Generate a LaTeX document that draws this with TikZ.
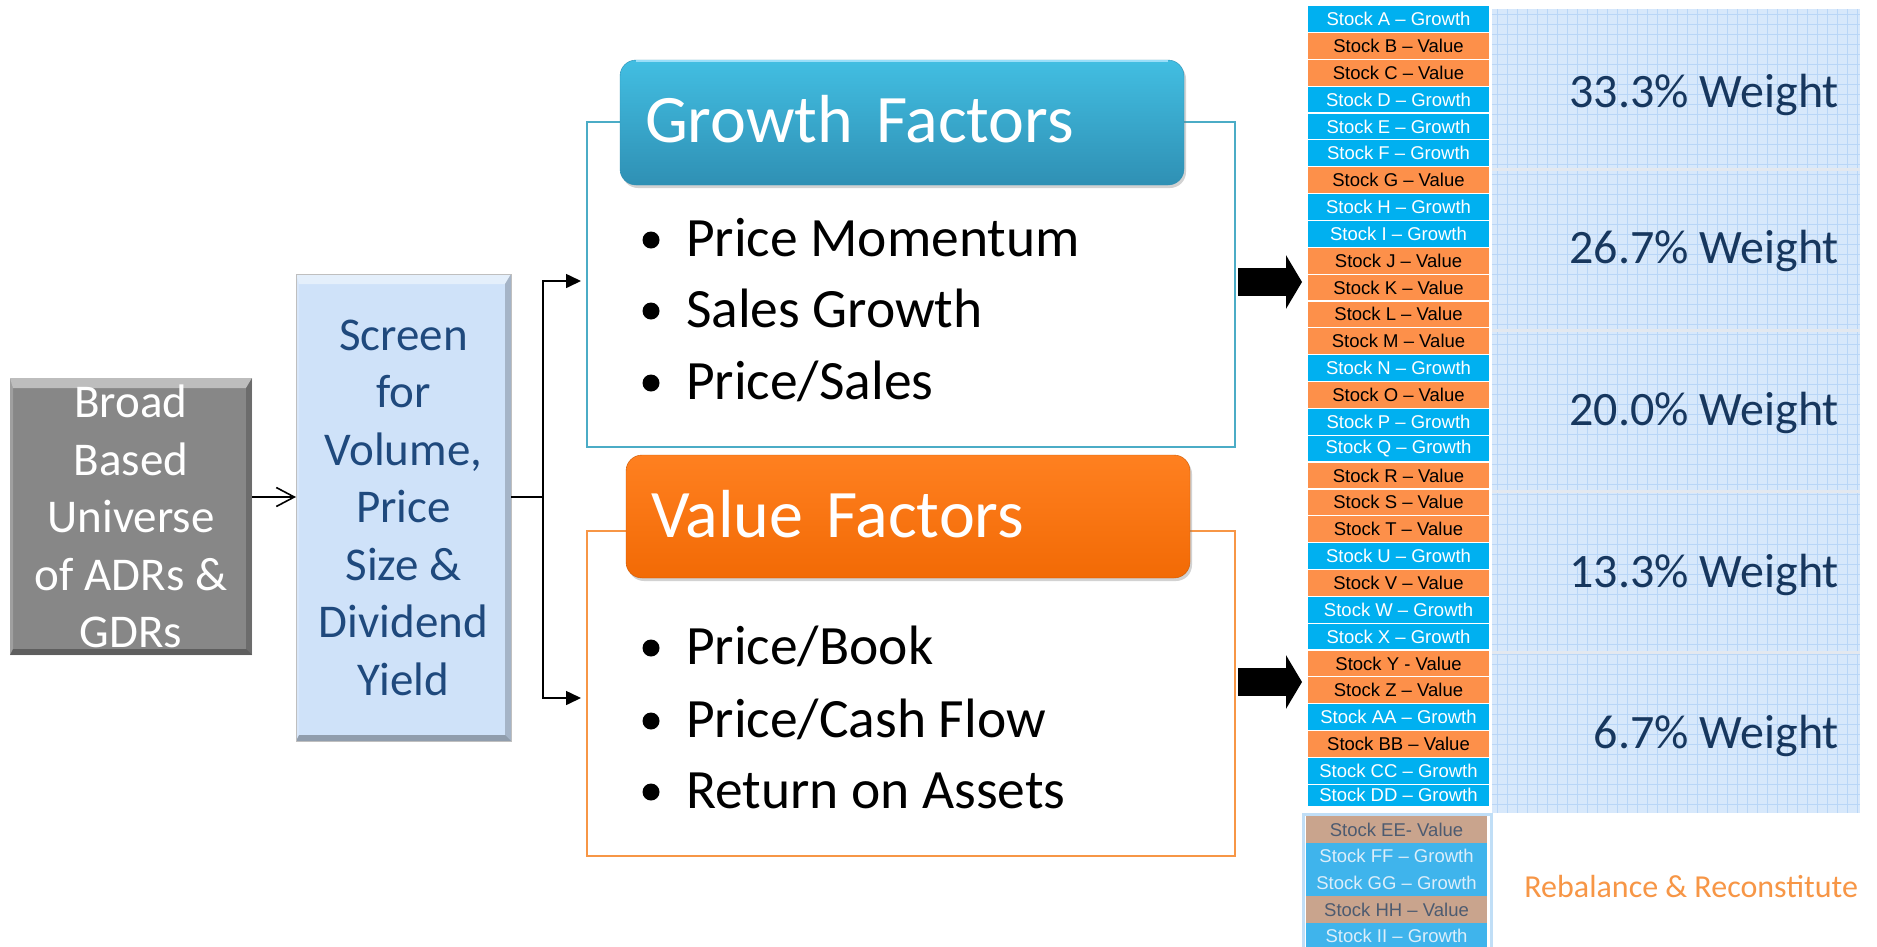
\documentclass[tikz,border=0pt]{standalone}
\usepackage{fontspec}
\setmainfont{Carlito}
\newfontfamily\arialf{Liberation Sans}
\usetikzlibrary{arrows.meta,shadows,calc}
\definecolor{sblue}{HTML}{00B0F0}
\definecolor{sorange}{HTML}{FD904A}
\definecolor{gteal}{HTML}{4BACC6}
\definecolor{vorange}{HTML}{F79646}
\definecolor{navy}{HTML}{17375E}
\definecolor{scrtext}{HTML}{1F497D}
\definecolor{scrfill}{HTML}{CFE2F9}
\definecolor{gridbg}{HTML}{D7E8FB}
\definecolor{gridln}{HTML}{B9D6F7}
\definecolor{bandsep}{HTML}{E3E8EF}
\definecolor{fadeblue}{HTML}{3FB4EC}
\definecolor{fadetan}{HTML}{C9A48D}
\definecolor{fadetxt}{HTML}{4D5B70}
\definecolor{fadewht}{HTML}{DCEEFA}
\definecolor{fadeedge}{HTML}{C0DEF6}
\definecolor{ghtop}{HTML}{42BEE2}
\definecolor{ghbot}{HTML}{2F90B4}
\definecolor{vhtop}{HTML}{FF8020}
\definecolor{vhbot}{HTML}{F26A05}
\tikzset{
  bevel/.style={path picture={
    \path (path picture bounding box.north west) coordinate (bNW)
          (path picture bounding box.north east) coordinate (bNE)
          (path picture bounding box.south west) coordinate (bSW)
          (path picture bounding box.south east) coordinate (bSE);
    \fill[white,opacity=.45] (bNW) -- (bNE) -- ([shift={(-6pt,-10pt)}]bNE) -- ([shift={(3pt,-10pt)}]bNW) -- cycle;
    \fill[white,opacity=.2] (bNW) -- ([shift={(3pt,-10pt)}]bNW) -- ([shift={(3pt,6pt)}]bSW) -- (bSW) -- cycle;
    \fill[black,opacity=.2] (bNE) -- ([shift={(-6pt,-10pt)}]bNE) -- ([shift={(-6pt,6pt)}]bSE) -- (bSE) -- cycle;
    \fill[black,opacity=.3] (bSW) -- ([shift={(3pt,6pt)}]bSW) -- ([shift={(-6pt,6pt)}]bSE) -- (bSE) -- cycle;
  }},
  bigtext/.style={font=\fontsize{47pt}{57.5pt}\selectfont, align=center},
  broadbox/.style={fill=black!47, bevel, text=white, bigtext, anchor=north west},
  screenbox/.style={fill=scrfill, draw=black!25, line width=1pt, bevel, text=scrtext, bigtext, anchor=north west},
  outlinebox/.style={line width=2pt, anchor=north west, minimum width=648pt, minimum height=325pt},
  headbox/.style={rounded corners=16pt, anchor=north west, minimum width=564pt, text width=514pt, inner xsep=25pt, align=left,
    text=white, font=\fontsize{68pt}{80pt}\selectfont, text height=47pt, text depth=8pt,
    drop shadow={shadow xshift=2pt, shadow yshift=-3pt, opacity=0.35}},
  bullettext/.style={anchor=base west, font=\fontsize{55.5pt}{64pt}\selectfont},
  bulletdot/.style={fill=black},
  conn/.style={line width=1.6pt, draw=black},
  openarrow/.style={conn, -{Straight Barb[length=18pt,width=19pt,line width=1.6pt]}},
  filledarrow/.style={conn, -{Triangle[length=15pt,width=14pt]}},
  blockarrow/.style={line width=28pt, draw=black, -{Triangle[length=16pt,width=53pt]}},
  cell/.style={anchor=north west, minimum width=183pt, minimum height=26.85pt, draw=white, line width=1.2pt,
    font=\arialf\fontsize{18.5pt}{20pt}\selectfont},
  gcell/.style={cell, fill=sblue, text=white},
  vcell/.style={cell, fill=sorange, text=black},
  fgcell/.style={cell, draw=none, fill=fadeblue, text=fadewht},
  fvcell/.style={cell, draw=none, fill=fadetan, text=fadetxt},
  band/.style={anchor=north west, minimum width=368pt, minimum height=160.8pt},
  weighttext/.style={anchor=base east, text=navy, font=\fontsize{48pt}{56pt}\selectfont},
}
\begin{document}
\begin{tikzpicture}[x=1pt,y=-1pt, every node/.append style={inner sep=0pt, outer sep=0pt}]
\useasboundingbox (0,0) rectangle (1877,946);
\fill[white] (0,0) rectangle (1877,946);

% left boxes
\node[broadbox, minimum width=242pt, minimum height=277pt] (broad) at (10,378) {Broad\\Based\\Universe\\of ADRs \&\\GDRs};
\node[screenbox, minimum width=215pt, minimum height=467pt] (screen) at (296,274) {Screen\\for\\Volume,\\Price\\Size \&\\Dividend\\Yield};

% connectors
\coordinate (jn) at (0,497);
\coordinate (bx) at (543,497);
\coordinate (gt) at (581,281);
\coordinate (vt) at (581,698);
\draw[openarrow] (broad.east |- jn) -- (screen.west |- jn);
\draw[filledarrow] (screen.east |- jn) -- (bx) |- (gt);
\draw[filledarrow] (bx) |- (vt);

% growth section
\node[outlinebox, draw=gteal] (gbox) at (587,122) {};
\node[headbox, minimum height=125pt, top color=ghtop, bottom color=ghbot, draw=ghbot] (ghead) at (620,60) {Growth Factors};
\draw[cyan!40!white, line width=1.5pt] ([xshift=16pt,yshift=-1pt]ghead.north west) -- ([xshift=-16pt,yshift=-1pt]ghead.north east);
\fill[bulletdot] (651,240) circle (8.5);
\node[bullettext] (g1) at (686,256) {Price Momentum};
\fill[bulletdot] (651,311) circle (8.5);
\node[bullettext] (g2) at (686,327) {Sales Growth};
\fill[bulletdot] (651,383) circle (8.5);
\node[bullettext] (g3) at (686,399) {Price/Sales};

% value section
\node[outlinebox, draw=vorange, line width=1.6pt] (vbox) at (587,531) {};
\node[headbox, minimum height=123pt, top color=vhtop, bottom color=vhbot, draw=vhbot!85!black, text depth=6pt] (vhead) at (626,455) {Value Factors};
\fill[bulletdot] (651,648) circle (8.5);
\node[bullettext] (v1) at (686,664) {Price/Book};
\fill[bulletdot] (651,721) circle (8.5);
\node[bullettext] (v2) at (686,737) {Price/Cash Flow};
\fill[bulletdot] (651,792) circle (8.5);
\node[bullettext] (v3) at (686,808) {Return on Assets};

% block arrows
\coordinate (ga) at (1302,282);
\coordinate (va) at (1302,682);
\draw[blockarrow] ([xshift=3pt]gbox.east |- ga) -- (ga);
\draw[blockarrow] ([xshift=3pt]vbox.east |- va) -- (va);

% weight area
\fill[gridbg] (1492,9) rectangle (1860,813);
\foreach \gx in {1497,1507,...,1857} \draw[gridln, line width=0.8pt] (\gx,9) -- (\gx,813);
\foreach \gy in {14,24,...,810} \draw[gridln, line width=0.8pt] (1492,\gy) -- (1860,\gy);
\foreach \k in {1,2,3,4} \draw[bandsep, line width=3pt] (1492,{9+160.8*\k}) -- (1860,{9+160.8*\k});
\node[band] (b1) at (1492,9) {};
\node[band] (b2) at (1492,169.8) {};
\node[band] (b3) at (1492,330.6) {};
\node[band] (b4) at (1492,491.4) {};
\node[band] (b5) at (1492,652.2) {};
\node[weighttext] (w1) at (1839,107) {33.3\% Weight};
\node[weighttext] (w2) at (1839,263) {26.7\% Weight};
\node[weighttext] (w3) at (1839,425) {20.0\% Weight};
\node[weighttext] (w4) at (1839,587) {13.3\% Weight};
\node[weighttext] (w5) at (1839,748) {6.7\% Weight};

% stock column
\foreach \lab/\sty [count=\i from 0] in {Stock A – Growth/gcell,Stock B – Value/vcell,Stock C – Value/vcell,Stock D – Growth/gcell,Stock E – Growth/gcell,Stock F – Growth/gcell,Stock G – Value/vcell,Stock H – Growth/gcell,Stock I – Growth/gcell,Stock J – Value/vcell,Stock K – Value/vcell,Stock L – Value/vcell,Stock M – Value/vcell,Stock N – Growth/gcell,Stock O – Value/vcell,Stock P – Growth/gcell,Stock Q – Growth/gcell,Stock R – Value/vcell,Stock S – Value/vcell,Stock T – Value/vcell,Stock U – Growth/gcell,Stock V – Value/vcell,Stock W – Growth/gcell,Stock X – Growth/gcell,Stock Y - Value/vcell,Stock Z – Value/vcell,Stock AA – Growth/gcell,Stock BB – Value/vcell,Stock CC – Growth/gcell}
  \node[\sty] (s\i) at (1307,{5.6+26.85*\i}) {\lab};
\node[gcell, minimum height=22pt] (s29) at (1307,784.2) {Stock DD – Growth};

% removed stocks
\draw[fadeedge, line width=3pt] (1303.5,814) rectangle (1491,960);
\foreach \lab/\sty [count=\i from 0] in {Stock EE- Value/fvcell,Stock FF – Growth/fgcell,Stock GG – Growth/fgcell,Stock HH – Value/fvcell,Stock II – Growth/fgcell}
  \node[\sty, minimum width=181pt] (r\i) at (1306,{816+26.7*\i}) {\lab};

\node[anchor=base east, text=vorange, font=\fontsize{32pt}{36pt}\selectfont] (rebal) at (1858,897) {Rebalance \& Reconstitute};
\end{tikzpicture}
\end{document}
